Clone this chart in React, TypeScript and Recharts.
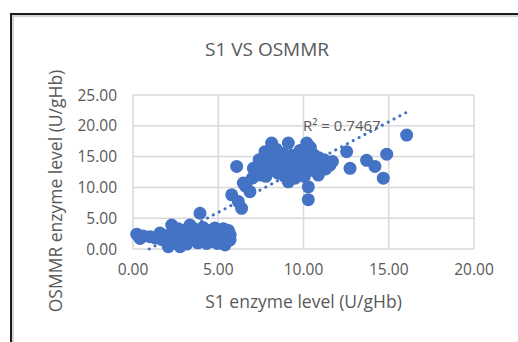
import React from "react";
import { ScatterChart, Scatter, XAxis, YAxis, CartesianGrid, ReferenceLine, ReferenceDot, Label } from "recharts";

// S1 vs OSMMR enzyme levels
const lowX = [0.22, 0.41, 0.6, 1.0, 1.3, 1.58, 1.7, 1.85, 1.98, 2.07, 2.15, 2.27, 2.3, 2.4, 2.5, 2.55, 2.65, 2.76, 2.8, 2.9, 3.0, 3.05, 3.15, 3.2, 3.34, 3.4, 3.5, 3.6, 3.7, 3.8, 3.93, 3.95, 4.0, 4.1, 4.2, 4.32, 4.35, 4.45, 4.5, 4.6, 4.7, 4.8, 4.85, 4.95, 5.0, 5.1, 5.15, 5.25, 5.3, 5.4, 5.45, 5.55, 5.6, 5.69, 5.7];
const lowY = [2.4, 1.7, 2.1, 2.0, 1.8, 2.6, 1.5, 2.2, 1.46, 0.37, 1.0, 3.9, 2.8, 1.9, 2.5, 0.9, 3.3, 0.37, 1.6, 2.3, 1.2, 3.0, 0.8, 2.0, 3.9, 2.6, 1.5, 3.2, 2.2, 1.0, 5.8, 2.8, 1.8, 3.5, 2.4, 0.9, 1.6, 3.0, 2.1, 1.2, 2.7, 3.4, 1.9, 0.9, 2.5, 3.1, 1.5, 2.2, 3.3, 0.65, 1.8, 2.6, 3.0, 1.46, 2.3];
const highX = [5.79, 6.18, 6.37, 6.08, 6.47, 6.6, 6.86, 7.06, 7.0, 7.2, 7.4, 7.5, 7.6, 7.74, 7.8, 7.9, 8.0, 8.13, 8.2, 8.3, 8.4, 8.5, 8.6, 8.7, 8.8, 8.9, 9.0, 9.11, 9.11, 9.2, 9.3, 9.4, 9.5, 9.6, 9.7, 9.8, 9.9, 10.0, 10.05, 10.19, 10.28, 10.28, 10.35, 10.4, 10.5, 10.6, 10.7, 10.87, 10.9, 11.0, 11.2, 11.3, 11.55, 11.7, 12.53, 12.73, 13.7, 14.19, 14.68, 14.88, 16.05];
const highY = [8.8, 7.7, 6.6, 13.4, 10.7, 10.2, 9.3, 13.1, 11.5, 12.5, 14.5, 12.0, 13.3, 15.8, 11.8, 14.0, 12.8, 17.2, 15.0, 13.5, 16.2, 12.3, 14.6, 13.0, 15.5, 11.8, 14.0, 17.2, 10.9, 12.8, 15.2, 13.6, 11.5, 14.4, 12.6, 16.0, 13.2, 15.0, 11.8, 17.2, 10.1, 8.0, 14.2, 16.5, 12.8, 15.3, 13.7, 12.0, 14.8, 13.2, 14.5, 13.0, 13.6, 14.2, 15.8, 13.1, 14.4, 13.4, 11.5, 15.4, 18.5];

// linear trendline as drawn by Excel (clipped at y = 0)
const trendX = [0.95, 16.05];
const trendY = [0, 22.2];
const rSquared = "R² = 0.7467";
const rLabelAt = [9.97, 20.1];

const xTicks = [0, 5, 10, 15, 20];
const yTicks = [0, 5, 10, 15, 20, 25];

const points = [...lowX, ...highX].map((x, i) => ({ x, y: [...lowY, ...highY][i] }));

const FONT = "'Open Sans', sans-serif";
const GREY = "#595959";

const Dot = (p: any) => <circle cx={p.cx} cy={p.cy} r={6.5} fill="#4472C4" />;

export default function App() {
  return (
    <div style={{ position: "absolute", left: 0, top: 0, width: 518, height: 342, overflow: "hidden", background: "#fff", fontFamily: FONT }}>
      <div
        style={{
          position: "absolute", left: 10, top: 13, width: 600, height: 400,
          borderLeft: "2px solid #1c1c1c", borderTop: "2px solid #1c1c1c",
          boxShadow: "inset 2px 2px 0 #d4d4d4",
        }}
      />
      <div style={{ position: "absolute", left: 0, width: 534, top: 36, textAlign: "center", fontSize: 19, color: GREY }}>
        S1 VS OSMMR
      </div>
      <ScatterChart width={518} height={342} margin={{ top: 95, right: 44, bottom: 63, left: 73 }} style={{ position: "absolute", left: 0, top: 0 }}>
        <CartesianGrid stroke="#d9d9d9" strokeWidth={1.5} />
        <XAxis
          type="number" dataKey="x" domain={[0, 20]} ticks={xTicks} height={30}
          tickFormatter={(v: number) => v.toFixed(2)} axisLine={false} tickLine={false}
          tickSize={6} tickMargin={9} tick={{ fontSize: 15.5, fill: GREY, fontFamily: FONT }}
        >
          <Label value="S1 enzyme level (U/gHb)" position="bottom" offset={17} style={{ fontSize: 17.5, fill: GREY, fontFamily: FONT }} />
        </XAxis>
        <YAxis
          type="number" dataKey="y" domain={[0, 25]} ticks={yTicks} width={60}
          tickFormatter={(v: number) => v.toFixed(2)} axisLine={false} tickLine={false}
          tickSize={6} tickMargin={10} tick={{ fontSize: 15.5, fill: GREY, fontFamily: FONT }}
        >
          <Label
            content={({ viewBox }: any) => {
              const cx = viewBox.x - 18;
              const cy = viewBox.y + viewBox.height / 2 + 19;
              return (
                <text x={cx} y={cy} transform={`rotate(-90, ${cx}, ${cy})`} textAnchor="middle" dominantBaseline="central" fontSize={17.5} fill={GREY} fontFamily={FONT}>
                  OSMMR enzyme level (U/gHb)
                </text>
              );
            }}
          />
        </YAxis>
        <Scatter data={points} shape={Dot} isAnimationActive={false} />
        <ReferenceLine
          segment={[{ x: trendX[0], y: trendY[0] }, { x: trendX[1], y: trendY[1] }]}
          stroke="#4472C4" strokeWidth={3} strokeDasharray="0.1 6.5" strokeLinecap="round"
        />
        <ReferenceDot
          x={rLabelAt[0]} y={rLabelAt[1]}
          shape={(p: any) => (
            <text x={p.cx} y={p.cy} dominantBaseline="central" fontSize={15} fill={GREY} fontFamily={FONT}>
              {rSquared}
            </text>
          )}
        />
      </ScatterChart>
    </div>
  );
}
